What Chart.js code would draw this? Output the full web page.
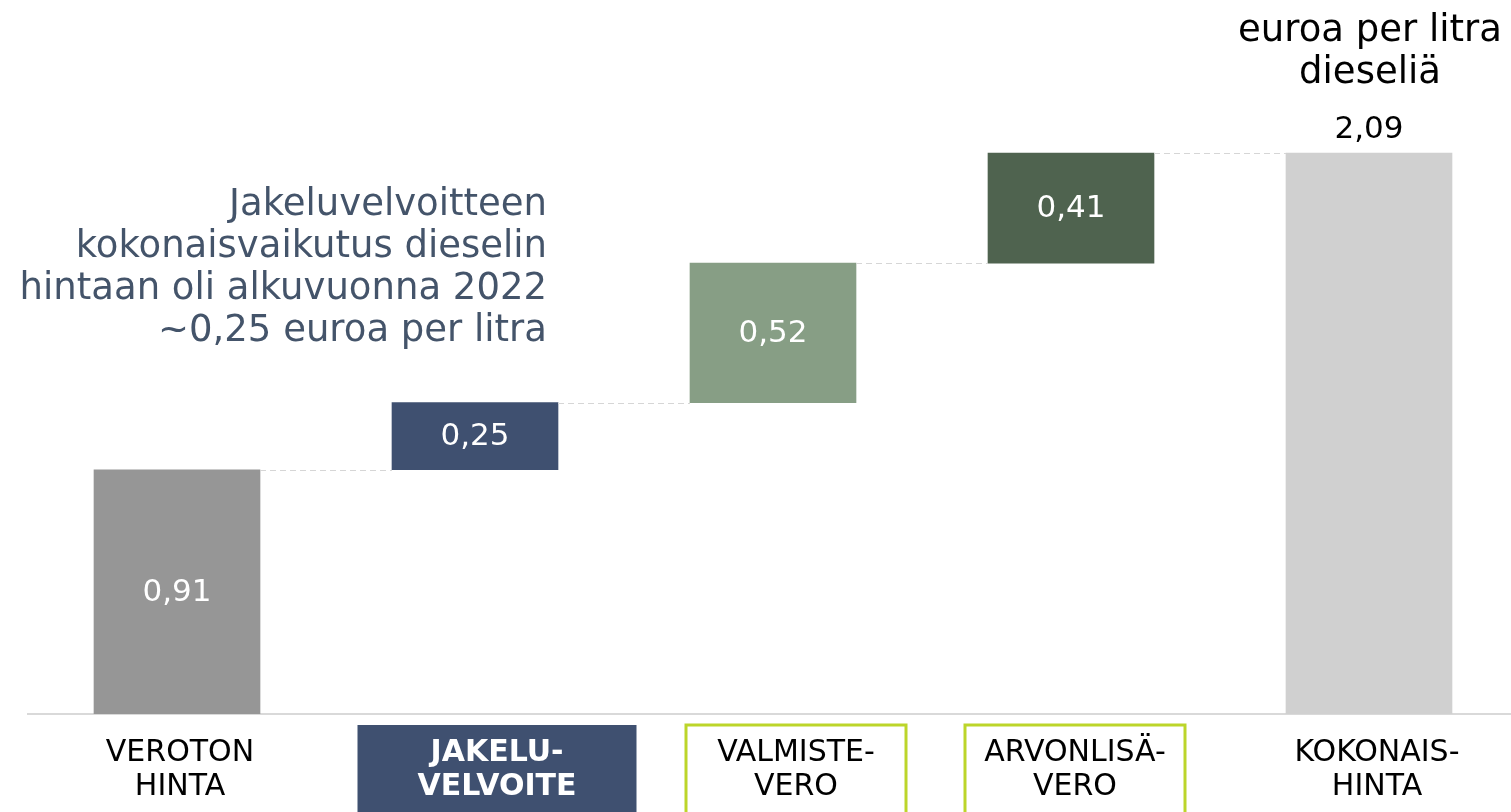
<!DOCTYPE html>
<html>
<head>
<meta charset="utf-8">
<script src="https://cdn.jsdelivr.net/npm/chart.js@4/dist/chart.umd.min.js"></script>
<style>
  html, body { margin: 0; padding: 0; background: #fff; overflow: hidden; }
  #wrap { position: relative; width: 1511px; height: 812px; overflow: hidden; }
  canvas { position: absolute; left: 0; top: 0; }
</style>
</head>
<body>
<div id="wrap"><canvas id="chart" width="1518" height="812"></canvas></div>
<script>
// data
const categories = [["VEROTON", "HINTA"], ["JAKELU-", "VELVOITE"], ["VALMISTE-", "VERO"], ["ARVONLISÄ-", "VERO"], ["KOKONAIS-", "HINTA"]];
const barStart = [0, 0.91, 1.16, 1.68, 0];
const barEnd = [0.91, 1.16, 1.68, 2.09, 2.09];
const valueLabels = ["0,91", "0,25", "0,52", "0,41", "2,09"];
const barColors = ["#969696", "#3f5070", "#879e85", "#4f634f", "#d0d0d0"];
const note = ["Jakeluvelvoitteen", "kokonaisvaikutus dieselin", "hintaan oli alkuvuonna 2022", "~0,25 euroa per litra"];
const unitTitle = ["euroa per litra", "dieseliä"];

// label styling: 0 plain, 1 filled, 2 outlined
const labelStyle = [0, 1, 2, 2, 0];
const labelShift = [3, 22, 23, 4, 8];
const boxWidth = [0, 279, 220, 220, 0];

const FONT = "'DejaVu Sans', Verdana, sans-serif";

const extras = {
  id: "extras",
  afterDatasetsDraw(chart) {
    const ctx = chart.ctx;
    const x = chart.scales.x, y = chart.scales.y;
    const meta = chart.getDatasetMeta(0);

    // connectors
    ctx.save();
    ctx.strokeStyle = "#d6d6d6";
    ctx.lineWidth = 1;
    ctx.setLineDash([6, 4]);
    for (let i = 0; i < meta.data.length - 1; i++) {
      const a = meta.data[i], b = meta.data[i + 1];
      const yy = Math.round(y.getPixelForValue(barEnd[i])) + 0.5;
      ctx.beginPath();
      ctx.moveTo(a.x + a.width / 2, yy);
      ctx.lineTo(b.x - b.width / 2, yy);
      ctx.stroke();
    }
    ctx.restore();

    // values
    ctx.save();
    ctx.textAlign = "center";
    ctx.textBaseline = "middle";
    ctx.font = "31px " + FONT;
    meta.data.forEach((bar, i) => {
      if (i === meta.data.length - 1) {
        ctx.fillStyle = "#000";
        ctx.fillText(valueLabels[i], bar.x, y.getPixelForValue(barEnd[i]) - 23);
      } else {
        ctx.fillStyle = "#fff";
        const mid = (barStart[i] + barEnd[i]) / 2;
        ctx.fillText(valueLabels[i], bar.x, y.getPixelForValue(mid) + 1);
      }
    });
    ctx.restore();

    // category labels
    ctx.save();
    ctx.textAlign = "center";
    ctx.textBaseline = "middle";
    categories.forEach((lines, i) => {
      const cx = x.getPixelForValue(i) + labelShift[i];
      if (labelStyle[i] === 1) {
        ctx.fillStyle = "#3f5070";
        ctx.fillRect(cx - boxWidth[i] / 2, 725, boxWidth[i], 100);
      } else if (labelStyle[i] === 2) {
        ctx.strokeStyle = "#bcd52a";
        ctx.lineWidth = 3;
        ctx.strokeRect(cx - boxWidth[i] / 2, 725, boxWidth[i], 100);
      }
      ctx.fillStyle = labelStyle[i] === 1 ? "#fff" : "#000";
      ctx.font = (labelStyle[i] === 1 ? "bold " : "") + "30px " + FONT;
      lines.forEach((t, k) => ctx.fillText(t, cx, 753 + k * 34));
    });
    ctx.restore();

    // note and unit
    ctx.save();
    ctx.textBaseline = "middle";
    ctx.font = "37px " + FONT;
    ctx.fillStyle = "#44546a";
    ctx.textAlign = "right";
    note.forEach((t, k) => ctx.fillText(t, 547, 205 + k * 42));
    ctx.fillStyle = "#000";
    ctx.textAlign = "center";
    unitTitle.forEach((t, k) => ctx.fillText(t, 1370, 31 + k * 42));
    ctx.restore();
  }
};

new Chart(document.getElementById("chart"), {
  type: "bar",
  data: {
    labels: categories.map((c) => c.join("")),
    datasets: [{
      data: barStart.map((s, i) => [s, barEnd[i]]),
      backgroundColor: barColors,
      borderWidth: 0,
      borderSkipped: false,
      barThickness: 166,
    }],
  },
  options: {
    responsive: false,
    animation: false,
    layout: { padding: { left: 28, right: 0, top: 0, bottom: 90 } },
    plugins: { legend: { display: false }, tooltip: { enabled: false } },
    scales: {
      x: {
        grid: { display: false },
        ticks: { display: false },
        border: { display: true, color: "#d9d9d9", width: 2 },
      },
      y: {
        display: false,
        min: 0,
        max: 2.66,
      },
    },
  },
  plugins: [extras],
});
</script>
</body>
</html>
